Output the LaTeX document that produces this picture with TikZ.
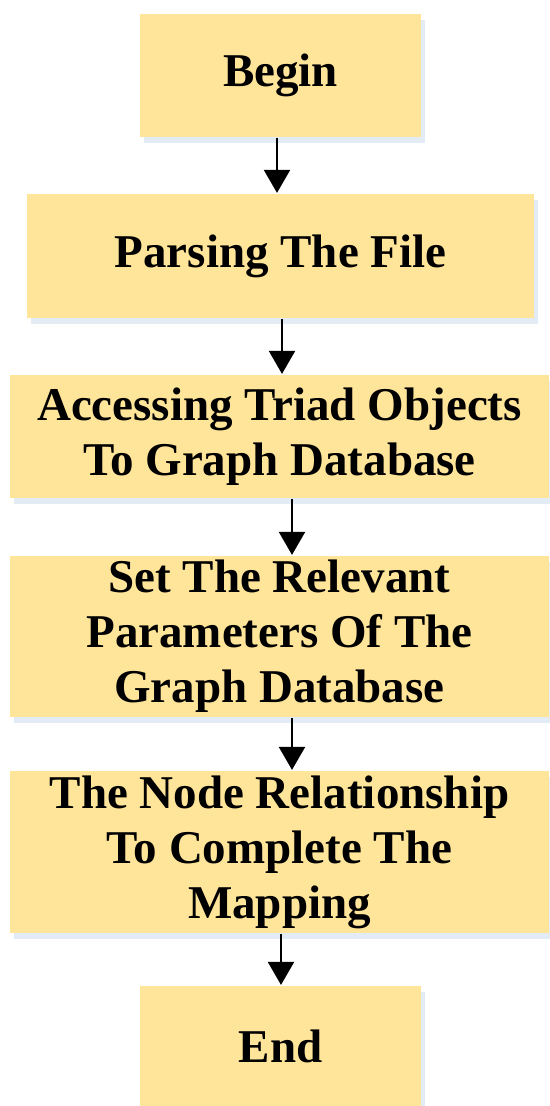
\documentclass[tikz,border=0pt]{standalone}
\usepackage{fontspec}
\setmainfont{Liberation Serif}
\usepackage{tikz}
\usetikzlibrary{arrows.meta,shadows}
\definecolor{boxyellow}{HTML}{FFE599}
\definecolor{shadowblue}{HTML}{DCE6F2}

\begin{document}
\begin{tikzpicture}[x=1pt,y=1pt,>={Triangle[length=23pt,width=26pt]},
  line width=2.2pt,
  step box/.style={rectangle,fill=boxyellow,inner sep=0pt,align=center,
    font=\bfseries\fontsize{47}{55}\selectfont,
    drop shadow={shadow xshift=4pt,shadow yshift=-6pt,fill=shadowblue,opacity=0.8}}]
					\useasboundingbox (0,0) rectangle (549,-1106);
					\node[step box,minimum width=281,minimum height=123] (Begin) at (280.5,-75.5) {Begin};
					\node[step box,minimum width=507,minimum height=124] (Parse) at (280.5,-256) {Parsing The File};
					\node[step box,minimum width=539,minimum height=123] (Access) at (279.5,-436.5) {Accessing Triad Objects\\To Graph Database};
					\node[step box,minimum width=539,minimum height=161] (SetPar) at (279.5,-636.5) {Set The Relevant\\Parameters Of The\\Graph Database};
					\node[step box,minimum width=539,minimum height=162] (NodeRel) at (279.5,-852) {The Node Relationship\\To Complete The\\Mapping};
					\node[step box,minimum width=281,minimum height=120] (End) at (280.5,-1046) {End};
				\path[->]
					([xshift=-3.5]Begin.south) edge ([xshift=-3.5]Begin.south |- Parse.north)
					([xshift=1.5]Parse.south) edge ([xshift=1.5]Parse.south |- Access.north)
					([xshift=12.5]Access.south) edge ([xshift=12.5]Access.south |- SetPar.north)
					([xshift=12.5]SetPar.south) edge ([xshift=12.5]SetPar.south |- NodeRel.north)
					([xshift=1.5]NodeRel.south) edge ([xshift=1.5]NodeRel.south |- End.north);
\end{tikzpicture}
\end{document}
